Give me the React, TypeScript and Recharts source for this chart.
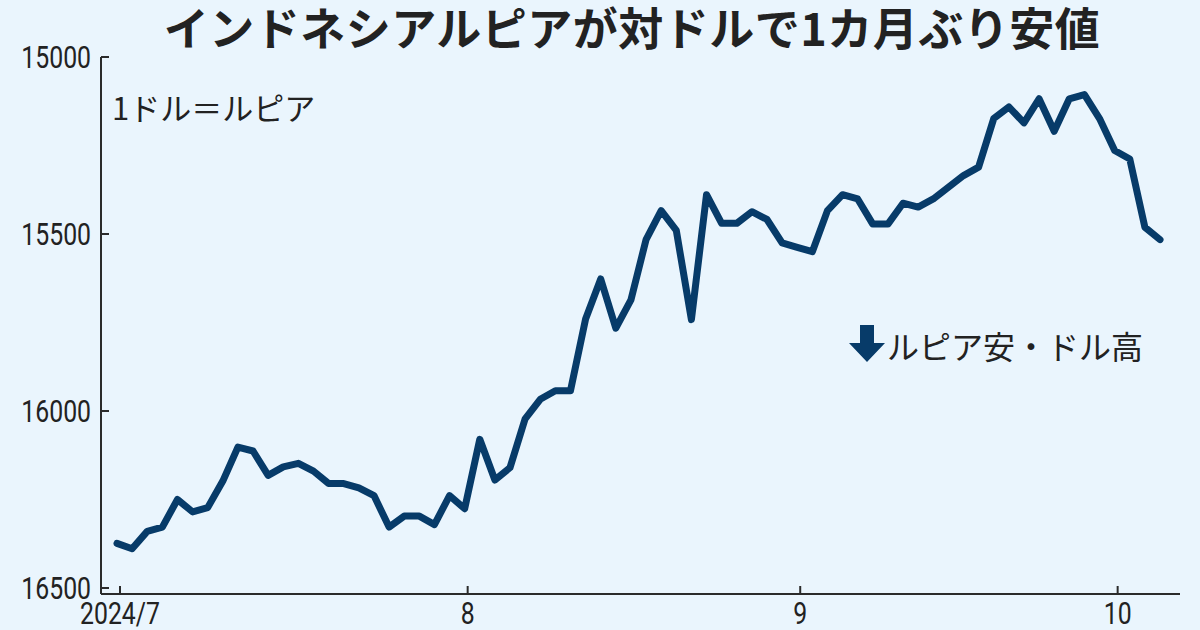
import React from 'react';
import { LineChart, Line, XAxis, YAxis } from 'recharts';

const dates = [
  '7/1', '7/2', '7/3', '7/4', '7/5', '7/8', '7/9', '7/10', '7/11', '7/12',
  '7/15', '7/16', '7/17', '7/18', '7/19', '7/22', '7/23', '7/24', '7/25', '7/26',
  '7/29', '7/30', '7/31',
  '8/1', '8/2', '8/5', '8/6', '8/7', '8/8', '8/9', '8/12', '8/13', '8/14',
  '8/15', '8/16', '8/19', '8/20', '8/21', '8/22', '8/23', '8/26', '8/27', '8/28',
  '8/29', '8/30',
  '9/2', '9/3', '9/4', '9/5', '9/6', '9/9', '9/10', '9/11', '9/12', '9/13',
  '9/16', '9/17', '9/18', '9/19', '9/20', '9/23', '9/24', '9/25', '9/26', '9/27',
  '9/30',
  '10/1', '10/2', '10/3', '10/4',
];

// ルピア / 1ドル
const rupiah = [
  16374, 16389, 16340, 16328, 16250, 16285, 16273, 16198, 16102, 16113,
  16182, 16158, 16148, 16170, 16205, 16205, 16217, 16239, 16328, 16297,
  16297, 16321, 16239,
  16276, 16080, 16195, 16160, 16022, 15967, 15943, 15943, 15740, 15627,
  15766, 15686, 15516, 15434, 15490, 15742, 15389, 15470, 15470, 15437,
  15459, 15525,
  15538, 15550, 15434, 15389, 15401, 15472, 15472, 15413, 15424, 15401,
  15368, 15335, 15311, 15174, 15141, 15186, 15118, 15210, 15118, 15106,
  15174,
  15264, 15288, 15481, 15516,
];

const xTickDates = ['7/1', '8/1', '9/2', '10/1'];
const xTickLabels = ['2024/7', '8', '9', '10'];
const yTicks = [15000, 15500, 16000, 16500];

const data = dates.map((d, i) => ({ date: d, value: rupiah[i] }));

const BG = '#eaf5fd';
const NAVY = '#073b69';
const AXIS = '#2b2b2b';
const TEXT = '#222';
const NUM_FONT = "Roboto, sans-serif";
const JP_FONT = "'Noto Sans CJK JP', 'Noto Sans', sans-serif";

// narrow numerals like the original
const NARROW = 0.8;

const YTick = (props: any) => {
  const { x, y, payload } = props;
  return (
    <g>
      <line x1={x} x2={x + 8} y1={y} y2={y} stroke={AXIS} strokeWidth={2} />
      <text
        transform={`translate(${x - 10},${y + 11}) scale(${NARROW},1)`}
        textAnchor="end"
        fill={TEXT}
        fontSize={31}
        fontFamily={NUM_FONT}
      >
        {payload.value}
      </text>
    </g>
  );
};

const XTick = (props: any) => {
  const { x, y, payload } = props;
  const idx = xTickDates.indexOf(payload.value);
  return (
    <g>
      <line x1={x + 3} x2={x + 3} y1={y} y2={y - 8} stroke={AXIS} strokeWidth={2} />
      <text
        transform={`translate(${x + 3},${y + 30}) scale(${NARROW},1)`}
        textAnchor="middle"
        fill={TEXT}
        fontSize={31}
        fontFamily={NUM_FONT}
      >
        {idx >= 0 ? xTickLabels[idx] : payload.value}
      </text>
    </g>
  );
};

export default function App() {
  return (
    <div
      style={{
        position: 'absolute',
        left: 0,
        top: 0,
        width: 1200,
        height: 630,
        background: BG,
        overflow: 'hidden',
      }}
    >
      <div
        style={{
          position: 'absolute',
          left: 64,
          top: 3,
          width: 1136,
          textAlign: 'center',
          fontFamily: JP_FONT,
          fontWeight: 700,
          fontSize: 45,
          letterSpacing: 0.5,
          lineHeight: '48px',
          color: TEXT,
          whiteSpace: 'nowrap',
        }}
      >
        インドネシアルピアが対ドルで1カ月ぶり安値
      </div>
      <LineChart
        width={1200}
        height={630}
        data={data}
        margin={{ top: 57, right: 20, bottom: 0, left: 0 }}
      >
        <XAxis
          dataKey="date"
          type="category"
          ticks={xTickDates}
          interval={0}
          height={36}
          padding={{ left: 16, right: 20 }}
          axisLine={{ stroke: AXIS, strokeWidth: 2 }}
          tickLine={false}
          tickSize={0}
          tickMargin={0}
          tick={<XTick />}
        />
        <YAxis
          type="number"
          reversed
          domain={[15000, 16517]}
          ticks={yTicks}
          allowDataOverflow
          width={101}
          axisLine={{ stroke: AXIS, strokeWidth: 2 }}
          tickLine={false}
          tickSize={0}
          tickMargin={0}
          tick={<YTick />}
        />
        <Line
          type="linear"
          dataKey="value"
          stroke={NAVY}
          strokeWidth={7}
          strokeLinejoin="round"
          strokeLinecap="round"
          dot={false}
          activeDot={false}
          isAnimationActive={false}
        />
      </LineChart>
      <div
        style={{
          position: 'absolute',
          left: 112,
          top: 90,
          fontFamily: JP_FONT,
          fontSize: 31,
          lineHeight: '34px',
          color: TEXT,
          whiteSpace: 'nowrap',
        }}
      >
        1ドル＝ルピア
      </div>
      <svg
        width={40}
        height={42}
        style={{ position: 'absolute', left: 848, top: 323 }}
      >
        <polygon points="12,2 26,2 26,20 37,20 19,39 1,20 12,20" fill={NAVY} />
      </svg>
      <div
        style={{
          position: 'absolute',
          left: 887,
          top: 327,
          fontFamily: JP_FONT,
          fontSize: 32,
          lineHeight: '36px',
          color: TEXT,
          whiteSpace: 'nowrap',
        }}
      >
        ルピア安・ドル高
      </div>
    </div>
  );
}
